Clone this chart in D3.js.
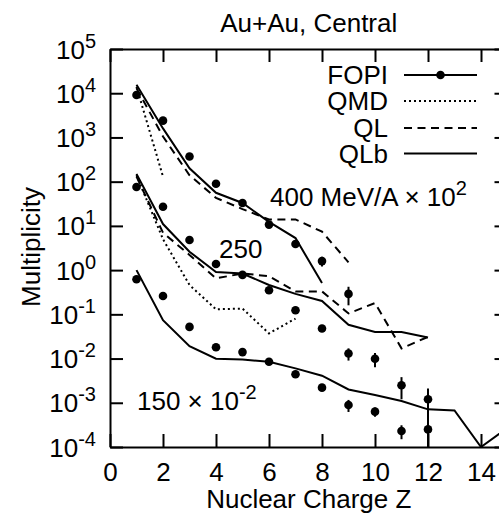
<!DOCTYPE html>
<html>
<head>
<meta charset="utf-8">
<script src="https://cdn.jsdelivr.net/npm/d3@7"></script>
<style>
body{margin:0;background:#fff}
text{font-family:"Liberation Sans",Arial,sans-serif;fill:#000}
</style>
</head>
<body>
<svg id="chart" width="499" height="514"></svg>
<script>
// measured data (Au+Au central), values already scaled as plotted
var zFopi = [1,2,3,4,5,6,7,8,9,10,11,12];
var fopi400 = [9100, 2400, 370, 90, 33, 10.7, 3.9, 1.6, 0.29];
var err400  = [0, 0, 0, 0, 0, 0, 0.7, 0.4, 0.13];
var fopi250 = [76, 27, 4.8, 1.38, 0.78, 0.35, 0.124, 0.048, 0.013, 0.0099, 0.0025, 0.0012];
var err250  = [0, 0, 0, 0, 0, 0, 0, 0, 0.004, 0.0035, 0.0013, 0.0009];
var fopi150 = [0.62, 0.26, 0.052, 0.018, 0.014, 0.0085, 0.0044, 0.0022, 0.00089, 0.00063, 0.00023, 0.00025];
var err150  = [0, 0, 0, 0, 0, 0, 0, 0, 0.00027, 0.00015, 0.00008, 0.00016];

// model curves
var qmd400 = [14000, 130];
var ql400  = [13000, 1050, 140, 43, 24, 14, 14, 7.4, 1.5];
var qlb400 = [15500, 1600, 200, 56, 33, 12.3, 5.3, 0.51];
var qmd250 = [140, 5, 0.46, 0.13, 0.135, 0.037, 0.08];
var ql250  = [130, 7, 2.2, 0.65, 0.84, 0.73, 0.33, 0.33, 0.105, 0.18, 0.017, 0.031];
var qlb250 = [150, 11, 2.6, 0.91, 0.84, 0.46, 0.29, 0.20, 0.058, 0.04, 0.04, 0.030];
var qlb150 = [1.0, 0.074, 0.019, 0.0099, 0.0095, 0.0085, 0.006, 0.0041, 0.002, 0.0015, 0.0011, 0.00071, 0.00067, 0.0001, 0.00027];

var xTicks = [0,2,4,6,8,10,12,14];
var yTicks = [1e-4,1e-3,1e-2,1e-1,1e0,1e1,1e2,1e3,1e4,1e5];
var yTickExp = ["-4","-3","-2","-1","0","1","2","3","4","5"];

var legendNames = ["FOPI","QMD","QL","QLb"];

var svg = d3.select("#chart");
var pLeft = 110, pRight = 507.5, pTop = 49, pBottom = 447;
var fs = 26, fsSup = 20, supUp = 11;

var x = d3.scaleLinear().domain([0,15]).range([pLeft,pRight]);
var y = d3.scaleLog().domain([1e-4,1e5]).range([pBottom,pTop]);

svg.append("clipPath").attr("id","clip")
  .append("rect").attr("x",pLeft).attr("y",pTop).attr("width",pRight-pLeft).attr("height",pBottom-pTop);

// axes (ticks point inward)
var gB = svg.append("g").attr("transform","translate(0,"+pBottom+")")
  .call(d3.axisBottom(x).tickValues(xTicks).tickSize(-13).tickSizeOuter(0).tickPadding(16));
var gT = svg.append("g").attr("transform","translate(0,"+pTop+")")
  .call(d3.axisTop(x).tickValues(xTicks).tickSize(-13).tickSizeOuter(0).tickFormat(""));
var gL = svg.append("g").attr("transform","translate("+pLeft+",0)")
  .call(d3.axisLeft(y).tickValues(yTicks).tickSize(-13).tickSizeOuter(0).tickFormat(""));
var gR = svg.append("g").attr("transform","translate("+pRight+",0)")
  .call(d3.axisRight(y).tickValues(yTicks).tickSize(-13).tickSizeOuter(0).tickFormat(""));

[gB,gT,gL,gR].forEach(function(g){
  g.selectAll("path,line").attr("stroke","#000").attr("stroke-width",2);
});
gB.selectAll("text").attr("font-size",fs).attr("font-family","Liberation Sans, Arial, sans-serif").attr("fill","#000");

// y tick labels 10^n
gL.selectAll(".tick").each(function(d,i){
  var t = d3.select(this).append("text")
    .attr("x",-14).attr("y",9).attr("text-anchor","end")
    .attr("font-size",fs).attr("font-family","Liberation Sans, Arial, sans-serif").attr("fill","#000");
  t.append("tspan").text("10");
  t.append("tspan").attr("font-size",fsSup).attr("dy",-supUp).text(yTickExp[i]);
});

// titles
svg.append("text").attr("x",(pLeft+pRight)/2).attr("y",32).attr("text-anchor","middle")
  .attr("font-size",fs).text("Au+Au, Central");
svg.append("text").attr("x",(pLeft+pRight)/2).attr("y",508).attr("text-anchor","middle")
  .attr("font-size",fs).text("Nuclear Charge Z");
svg.append("text").attr("transform","translate(40,247) rotate(-90)").attr("text-anchor","middle")
  .attr("font-size",fs).text("Multiplicity");

// energy labels
var l1 = svg.append("text").attr("x",270).attr("y",206).attr("font-size",fs);
l1.append("tspan").text("400 MeV/A \u00d7 10");
l1.append("tspan").attr("font-size",fsSup).attr("dy",-supUp).text("2");
svg.append("text").attr("x",219).attr("y",258).attr("font-size",fs).text("250");
var l3 = svg.append("text").attr("x",137).attr("y",410).attr("font-size",fs);
l3.append("tspan").text("150 \u00d7 10");
l3.append("tspan").attr("font-size",fsSup).attr("dy",-supUp).text("-2");

var plot = svg.append("g").attr("clip-path","url(#clip)");

var line = d3.line().x(function(d,i){ return x(i+1); }).y(function(d){ return y(d); });

var styles = {qmd:"2,3", ql:"8,5.5", qlb:null};
function curve(data, dash){
  plot.append("path").datum(data).attr("d",line)
    .attr("fill","none").attr("stroke","#000").attr("stroke-width",2)
    .attr("stroke-dasharray",dash);
}
curve(qmd400, styles.qmd); curve(ql400, styles.ql); curve(qlb400, styles.qlb);
curve(qmd250, styles.qmd); curve(ql250, styles.ql); curve(qlb250, styles.qlb);
curve(qlb150, styles.qlb);

function points(vals, errs){
  var pts = vals.map(function(v,i){ return {z:zFopi[i], v:v, e:errs[i]}; });
  plot.selectAll(null).data(pts.filter(function(p){ return p.e>0; })).enter()
    .append("line")
    .attr("x1",function(p){ return x(p.z); }).attr("x2",function(p){ return x(p.z); })
    .attr("y1",function(p){ return y(Math.max(p.v-p.e,1e-5)); })
    .attr("y2",function(p){ return y(p.v+p.e); })
    .attr("stroke","#000").attr("stroke-width",2);
  plot.selectAll(null).data(pts).enter()
    .append("circle")
    .attr("cx",function(p){ return x(p.z); }).attr("cy",function(p){ return y(p.v); })
    .attr("r",4.3).attr("fill","#000");
}
points(fopi400, err400);
points(fopi250, err250);
points(fopi150, err150);

// legend
var legY = [84,110,137,162.5];
var legDash = [null, styles.qmd, styles.ql, styles.qlb];
var leg = svg.append("g");
legendNames.forEach(function(n,i){
  leg.append("text").attr("x",388).attr("y",legY[i]).attr("text-anchor","end")
    .attr("font-size",fs).text(n);
  leg.append("line").attr("x1",404).attr("x2",477).attr("y1",legY[i]-9).attr("y2",legY[i]-9)
    .attr("stroke","#000").attr("stroke-width",2).attr("stroke-dasharray",legDash[i]);
  if(i===0){
    leg.append("circle").attr("cx",440.5).attr("cy",legY[i]-9).attr("r",4.3).attr("fill","#000");
  }
});
</script>
</body>
</html>
